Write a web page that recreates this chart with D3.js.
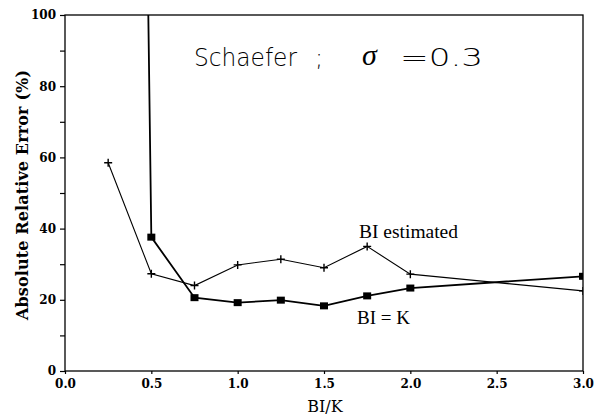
<!DOCTYPE html>
<html><head><meta charset="utf-8">
<script src="https://cdn.jsdelivr.net/npm/d3@7"></script>
<style>body{margin:0;background:#fff}svg{display:block}</style>
</head><body>
<script>
const xTicks = [0.0, 0.5, 1.0, 1.5, 2.0, 2.5, 3.0];
const xTickLabels = ["0.0","0.5","1.0","1.5","2.0","2.5","3.0"];
const yTicks = [0,10,20,30,40,50,60,70,80,90,100];
const yTickLabels = ["0","","20","","40","","60","","80","","100"];
const estX = [0.25, 0.5, 0.75, 1.0, 1.25, 1.5, 1.75, 2.0, 3.0];
const estY = [58.5, 27.3, 24.0, 29.8, 31.4, 29.0, 35.0, 27.2, 22.5];
const kX = [0.25, 0.5, 0.75, 1.0, 1.25, 1.5, 1.75, 2.0, 3.0];
const kY = [930, 37.6, 20.6, 19.2, 19.9, 18.3, 21.1, 23.3, 26.6];

const W = 596, H = 419;
const m = {l:65, r:13, t:15, b:48};
const svg = d3.select("body").append("svg").attr("width", W).attr("height", H);
const x = d3.scaleLinear().domain([0,3]).range([m.l, W-m.r]);
const y = d3.scaleLinear().domain([0,100]).range([H-m.b, m.t]);

svg.append("defs").append("clipPath").attr("id","pc")
  .append("rect").attr("x", m.l).attr("y", m.t).attr("width", W-m.r-m.l).attr("height", H-m.b-m.t);

// frame
svg.append("rect").attr("x", m.l).attr("y", m.t).attr("width", W-m.r-m.l).attr("height", H-m.b-m.t)
  .attr("fill","none").attr("stroke","#000").attr("stroke-width",1.3);

const serif = "'Liberation Serif', 'Times New Roman', serif";
const dserif = "'DejaVu Serif', serif";
const ya = svg.append("g").attr("transform",`translate(${m.l},0)`)
  .call(d3.axisLeft(y).tickValues(yTicks).tickSize(5).tickFormat((d,i)=>yTickLabels[i]));
const xa = svg.append("g").attr("transform",`translate(0,${H-m.b})`)
  .call(d3.axisBottom(x).tickValues(xTicks).tickSize(3).tickFormat((d,i)=>xTickLabels[i]));
[ya, xa].forEach(a=>{
  a.select(".domain").remove();
  a.selectAll("line").attr("stroke","#000").attr("stroke-width",1.2);
  a.selectAll("text").attr("fill","#000").style("font-family", dserif).style("font-size","12px").style("font-weight","bold");
});
ya.selectAll("text").attr("x",-9);
xa.selectAll("text").attr("y",8);

const g = svg.append("g").attr("clip-path","url(#pc)");
const line = d3.line().x(d=>x(d[0])).y(d=>y(d[1]));
const est = estX.map((v,i)=>[v, estY[i]]);
const kk = kX.map((v,i)=>[v, kY[i]]);
g.append("path").attr("d", line(est)).attr("fill","none").attr("stroke","#000").attr("stroke-width",1.1);
g.append("path").attr("d", line(kk)).attr("fill","none").attr("stroke","#000").attr("stroke-width",1.8);

// + markers
g.selectAll(".p").data(est).enter().append("path")
  .attr("d", d=>`M${x(d[0])-4},${y(d[1])}h8M${x(d[0])},${y(d[1])-4}v8`)
  .attr("stroke","#000").attr("stroke-width",1.4);
// square markers
g.selectAll(".s").data(kk.filter(d=>d[1]<=100)).enter().append("rect")
  .attr("x", d=>x(d[0])-4).attr("y", d=>y(d[1])-3.5).attr("width",8).attr("height",7).attr("fill","#000");

// axis titles
svg.append("text").attr("transform",`translate(28,195) rotate(-90)`)
  .attr("text-anchor","middle").style("font-family", dserif).style("font-size","16px").style("font-weight","bold")
  .attr("textLength",250).attr("lengthAdjust","spacing")
  .text("Absolute Relative Error (%)");
svg.append("text").attr("x", 325).attr("y", 412).attr("text-anchor","middle")
  .style("font-family", dserif).style("font-size","16px").text("BI/K");

// annotations
const thin = "'DejaVu Sans', sans-serif";
svg.append("text").attr("x",194).attr("y",66).style("font-family",thin).style("font-weight","200")
  .style("font-size","24px").attr("textLength",103).attr("lengthAdjust","spacingAndGlyphs").text("Schaefer");
svg.append("text").attr("x",315).attr("y",66).style("font-family",thin).style("font-weight","200")
  .style("font-size","24px").text(";");
svg.append("text").attr("x",362).attr("y",65).style("font-family","'Liberation Serif', serif")
  .style("font-style","italic").style("font-size","30px").text("σ");
svg.append("text").attr("x",400).attr("y",66).style("font-family",thin).style("font-weight","200")
  .style("font-size","25px").attr("textLength",83).attr("lengthAdjust","spacingAndGlyphs").text("=0.3");
svg.append("text").attr("x",359).attr("y",238).style("font-family", serif).style("font-size","19px")
  .attr("textLength",99).attr("lengthAdjust","spacingAndGlyphs").text("BI estimated");
svg.append("text").attr("x",357).attr("y",324).style("font-family", serif).style("font-size","19px")
  .attr("textLength",53).attr("lengthAdjust","spacingAndGlyphs").text("BI = K");
</script>
</body></html>
